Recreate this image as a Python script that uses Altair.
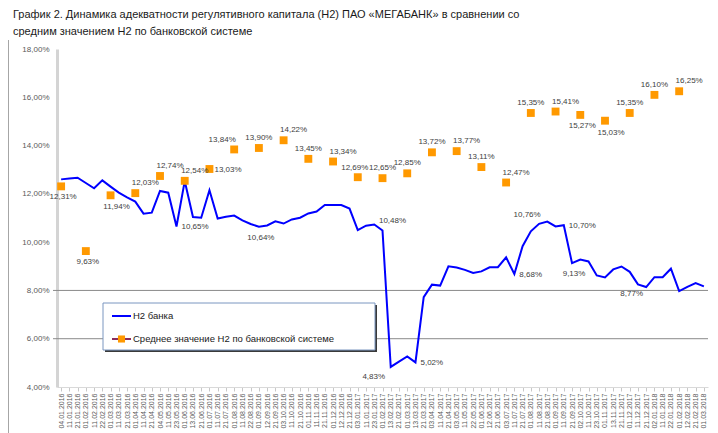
import altair as alt
import pandas as pd

# ---------------- data ----------------
dates = [
    "04.01.2016", "11.01.2016", "21.01.2016", "01.02.2016", "11.02.2016", "22.02.2016",
    "01.03.2016", "11.03.2016", "21.03.2016", "01.04.2016", "11.04.2016", "21.04.2016",
    "04.05.2016", "11.05.2016", "23.05.2016", "01.06.2016", "13.06.2016", "21.06.2016",
    "01.07.2016", "11.07.2016", "21.07.2016", "01.08.2016", "11.08.2016", "22.08.2016",
    "01.09.2016", "12.09.2016", "21.09.2016", "03.10.2016", "11.10.2016", "21.10.2016",
    "01.11.2016", "11.11.2016", "21.11.2016", "01.12.2016", "12.12.2016", "21.12.2016",
    "03.01.2017", "11.01.2017", "23.01.2017", "01.02.2017", "13.02.2017", "21.02.2017",
    "01.03.2017", "13.03.2017", "21.03.2017", "03.04.2017", "11.04.2017", "21.04.2017",
    "03.05.2017", "11.05.2017", "22.05.2017", "01.06.2017", "12.06.2017", "21.06.2017",
    "03.07.2017", "11.07.2017", "21.07.2017", "01.08.2017", "11.08.2017", "21.08.2017",
    "01.09.2017", "11.09.2017", "21.09.2017", "02.10.2017", "11.10.2017", "23.10.2017",
    "01.11.2017", "13.11.2017", "21.11.2017", "01.12.2017", "11.12.2017", "21.12.2017",
    "02.01.2018", "11.01.2018", "22.01.2018", "01.02.2018", "12.02.2018", "21.02.2018",
    "01.03.2018",
]

bank_h2 = [
    12.60, 12.64, 12.67, 12.45, 12.23, 12.56, 12.30, 12.05, 11.85, 11.68,
    11.18, 11.22, 12.12, 12.05, 10.65, 12.53, 11.04, 11.01, 12.15, 10.98,
    11.05, 11.10, 10.90, 10.75, 10.64, 10.69, 10.86, 10.77, 10.94, 11.01,
    11.19, 11.27, 11.54, 11.54, 11.54, 11.39, 10.50, 10.68, 10.73, 10.48,
    4.83, 5.05, 5.27, 5.02, 7.72, 8.24, 8.20, 9.00, 8.95, 8.85,
    8.72, 8.79, 8.96, 8.96, 9.37, 8.68, 9.83, 10.45, 10.76, 10.85,
    10.65, 10.70, 9.13, 9.28, 9.20, 8.62, 8.54, 8.87, 8.99, 8.77,
    8.25, 8.14, 8.55, 8.55, 8.90, 7.97, 8.15, 8.30, 8.17,
]

system_dates = [
    "04.01.2016", "01.02.2016", "01.03.2016", "01.04.2016", "04.05.2016", "01.06.2016",
    "01.07.2016", "01.08.2016", "01.09.2016", "03.10.2016", "01.11.2016", "01.12.2016",
    "03.01.2017", "01.02.2017", "01.03.2017", "03.04.2017", "03.05.2017", "01.06.2017",
    "03.07.2017", "01.08.2017", "01.09.2017", "02.10.2017", "01.11.2017", "01.12.2017",
    "02.01.2018", "01.02.2018",
]
system_h2 = [
    12.31, 9.63, 11.94, 12.03, 12.74, 12.54, 13.03, 13.84, 13.90, 14.22, 13.45, 13.34,
    12.69, 12.65, 12.85, 13.72, 13.77, 13.11, 12.47, 15.35, 15.41, 15.27, 15.03, 15.35,
    16.10, 16.25,
]
system_label_pos = [
    "b", "b", "br", "tr", "tr", "tr", "r", "tl", "t", "tr", "t", "tr",
    "tl2", "t", "t", "t", "tr", "t", "tr", "t", "tr", "b", "br", "t", "t", "tr",
]

bank_label_dates = ["23.05.2016", "01.09.2016", "01.02.2017", "13.02.2017", "13.03.2017",
                    "11.07.2017", "11.08.2017", "11.09.2017", "21.09.2017", "01.12.2017"]
bank_label_pos = ["r", "b", "tr", "bl", "r", "r", "tl", "r", "b", "b2"]

gridlines = [6, 8]
y_ticks = [4, 6, 8, 10, 12, 14, 16, 18]

series_names = ["Н2 банка", "Среднее значение Н2 по банковской системе"]
title_lines = [
    "График 2. Динамика адекватности регулятивного капитала (Н2) ПАО «МЕГАБАНК» в сравнении со",
    "средним значением Н2 по банковской системе",
]

# ---------------- tables ----------------
def fmt(v):
    return f"{v:.2f}".replace(".", ",") + "%"

bank_df = pd.DataFrame({"date": dates, "value": bank_h2})
sys_df = pd.DataFrame({"date": system_dates, "value": system_h2, "pos": system_label_pos})
sys_df["label"] = sys_df["value"].map(fmt)
bank_map = dict(zip(dates, bank_h2))
blab_df = pd.DataFrame({"date": bank_label_dates,
                        "value": [bank_map[d] for d in bank_label_dates],
                        "pos": bank_label_pos})
blab_df["label"] = blab_df["value"].map(fmt)
labels_df = pd.concat([sys_df, blab_df], ignore_index=True)
grid_df = pd.DataFrame({"value": gridlines})
one = pd.DataFrame({"k": [0]})

W, H = 651, 338
FONT = "Liberation Sans"

x_enc = alt.X(
    "date:N", sort=dates,
    scale=alt.Scale(type="point", domain=dates, padding=0.5),
    axis=alt.Axis(title=None, labelAngle=-90, labelFontSize=7, labelColor="#595959",
                  labelFont=FONT, labelPadding=2, tickColor="#c8c8c8", tickSize=4,
                  domainColor="#d9d9d9", grid=False),
)
y_enc = alt.Y(
    "value:Q",
    scale=alt.Scale(domain=[4, 18], nice=False, zero=False),
    axis=alt.Axis(title=None, values=y_ticks,
                  labelExpr="replace(format(datum.value, '.2f'), '.', ',') + '%'",
                  labelFontSize=8, labelColor="#595959", labelFont=FONT, labelPadding=8,
                  ticks=False, domainColor="#d4d4d4", domainWidth=3, grid=False),
)

grid = alt.Chart(grid_df).mark_rule(color="#8a8a8a", strokeWidth=1).encode(
    y=y_enc, x=alt.value(-4), x2=alt.value(W))

bank_line = alt.Chart(bank_df).mark_line(color="#0000ff", strokeWidth=2).encode(x=x_enc, y=y_enc)
sys_pts = alt.Chart(sys_df).mark_square(color="#ff9900", size=62, opacity=1).encode(x=x_enc, y=y_enc)

placements = {
    "t": dict(dx=0, dy=-10, align="center"),
    "tr": dict(dx=10, dy=-10, align="center"),
    "tl": dict(dx=-12, dy=-9, align="center"),
    "tl2": dict(dx=-3, dy=-9, align="center"),
    "b": dict(dx=2, dy=11, align="center"),
    "br": dict(dx=6, dy=12, align="center"),
    "bl": dict(dx=-17, dy=10, align="center"),
    "b2": dict(dx=2, dy=22, align="center"),
    "r": dict(dx=5, dy=1, align="left"),
}
text_layers = []
for p, kw in placements.items():
    sub = labels_df[labels_df["pos"] == p]
    if len(sub) == 0:
        continue
    text_layers.append(
        alt.Chart(sub).mark_text(fontSize=8, font=FONT, color="#404040", baseline="middle", **kw)
        .encode(x=x_enc, y=y_enc, text="label:N")
    )

# title as text lines above the plot
title_df = pd.DataFrame({"t": title_lines, "line": [0, 1]})
title_layers = [
    alt.Chart(title_df[title_df["line"] == i]).mark_text(
        align="left", baseline="middle", fontSize=11, font=FONT, color="#1a1a1a").encode(
        x=alt.value(-44), y=alt.value(-34 + 17 * i), text="t:N")
    for i in range(2)
]

# frame lines of the surrounding document box
frame = [
    alt.Chart(one).mark_rule(color="#a6a6a6", strokeWidth=1).encode(
        x=alt.value(-48.5), y=alt.value(-9), y2=alt.value(384)),
    alt.Chart(one).mark_rule(color="#a6a6a6", strokeWidth=1).encode(
        x=alt.value(654), y=alt.value(-9), y2=alt.value(384)),
]

# legend box
LX, LY, LX2, LY2 = 46, 254, 318, 301
legend = [
    alt.Chart(one).mark_rect(fill="#3a3a3a").encode(
        x=alt.value(LX + 2), x2=alt.value(LX2 + 2), y=alt.value(LY + 2), y2=alt.value(LY2 + 2)),
    alt.Chart(one).mark_rect(fill="white", stroke="#7a96c0", strokeWidth=1).encode(
        x=alt.value(LX), x2=alt.value(LX2), y=alt.value(LY), y2=alt.value(LY2)),
    alt.Chart(one).mark_rule(color="#0000ff", strokeWidth=2).encode(
        x=alt.value(55), x2=alt.value(74), y=alt.value(267)),
    alt.Chart(one).mark_rule(color="#8b2e5c", strokeWidth=2).encode(
        x=alt.value(55), x2=alt.value(74), y=alt.value(290)),
    alt.Chart(one).mark_square(color="#ff9900", size=50, opacity=1).encode(
        x=alt.value(64.5), y=alt.value(290)),
    alt.Chart(pd.DataFrame({"t": [series_names[0]]})).mark_text(
        align="left", baseline="middle", fontSize=9.5, font=FONT, color="#1a1a1a").encode(
        x=alt.value(76), y=alt.value(267), text="t:N"),
    alt.Chart(pd.DataFrame({"t": [series_names[1]]})).mark_text(
        align="left", baseline="middle", fontSize=9.5, font=FONT, color="#1a1a1a").encode(
        x=alt.value(76), y=alt.value(290), text="t:N"),
]

chart = alt.layer(
    *frame, grid, bank_line, sys_pts, *text_layers, *legend, *title_layers
).properties(
    width=W, height=H,
    padding={"left": 49, "top": 41, "right": 2, "bottom": 46},
    autosize=alt.AutoSizeParams(type="none"),
    background="white",
).configure_view(stroke=None)

chart.save("out.html", embed_options={"renderer": "svg", "actions": False})
